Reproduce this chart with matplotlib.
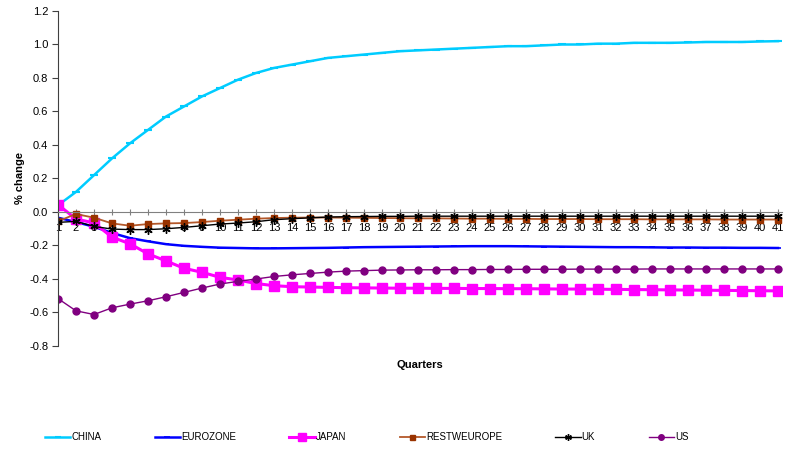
import matplotlib
matplotlib.use("Agg")
import matplotlib.pyplot as plt
import numpy as np

plt.rcParams['font.family'] = ['Liberation Sans', 'DejaVu Sans']

quarters = list(range(1, 42))

china = [0.04, 0.12, 0.22, 0.32, 0.41, 0.49, 0.57, 0.63, 0.69, 0.74,
         0.79, 0.83, 0.86, 0.88, 0.90, 0.92, 0.93, 0.94, 0.95, 0.96,
         0.965, 0.97, 0.975, 0.98, 0.985, 0.99, 0.99, 0.995, 1.0, 1.0,
         1.005, 1.005, 1.01, 1.01, 1.01, 1.012, 1.015, 1.015, 1.015, 1.018, 1.02]

eurozone = [-0.034, -0.06, -0.088, -0.125, -0.156, -0.175, -0.192, -0.202, -0.208, -0.213,
            -0.215, -0.217, -0.217, -0.216, -0.215, -0.214, -0.212, -0.21, -0.209, -0.208,
            -0.207, -0.206, -0.205, -0.204, -0.204, -0.204, -0.205, -0.206, -0.207, -0.208,
            -0.209, -0.21, -0.21, -0.211, -0.212, -0.212, -0.213, -0.213, -0.214, -0.214, -0.215]

japan = [0.044, -0.042, -0.065, -0.15, -0.19, -0.25, -0.292, -0.336, -0.36, -0.39,
         -0.406, -0.427, -0.44, -0.446, -0.448, -0.45, -0.452, -0.453, -0.454, -0.455,
         -0.455, -0.456, -0.456, -0.457, -0.457, -0.458, -0.458, -0.459, -0.46, -0.46,
         -0.461, -0.462, -0.463, -0.464, -0.465, -0.466, -0.467, -0.468, -0.469, -0.47, -0.471]

restweurope = [-0.055, -0.012, -0.034, -0.068, -0.082, -0.072, -0.068, -0.066, -0.06, -0.052,
               -0.046, -0.04, -0.036, -0.034, -0.033, -0.033, -0.034, -0.035, -0.036, -0.037,
               -0.038, -0.038, -0.039, -0.04, -0.04, -0.041, -0.041, -0.042, -0.042, -0.042,
               -0.043, -0.043, -0.043, -0.044, -0.044, -0.044, -0.044, -0.045, -0.045, -0.045, -0.045]

uk = [-0.062, -0.056, -0.086, -0.102, -0.105, -0.105, -0.1, -0.092, -0.082, -0.072,
      -0.066, -0.058, -0.046, -0.04, -0.035, -0.03, -0.028, -0.027, -0.026, -0.026,
      -0.025, -0.025, -0.025, -0.025, -0.025, -0.025, -0.025, -0.025, -0.025, -0.025,
      -0.025, -0.025, -0.025, -0.025, -0.025, -0.025, -0.025, -0.025, -0.025, -0.025, -0.025]

us = [-0.517, -0.59, -0.612, -0.572, -0.55, -0.53, -0.506, -0.48, -0.454, -0.43,
      -0.414, -0.40, -0.385, -0.375, -0.367, -0.359, -0.353, -0.35, -0.347, -0.346,
      -0.345, -0.345, -0.344, -0.344, -0.343, -0.343, -0.342, -0.342, -0.342, -0.341,
      -0.341, -0.341, -0.341, -0.340, -0.340, -0.340, -0.340, -0.340, -0.340, -0.340, -0.340]

yticks = [-0.8, -0.6, -0.4, -0.2, 0.0, 0.2, 0.4, 0.6, 0.8, 1.0, 1.2]
ytick_labels = ['-0.8', '-0.6', '-0.4', '-0.2', '0.0', '0.2', '0.4', '0.6', '0.8', '1.0', '1.2']

fig = plt.figure(figsize=(7.85, 4.5), dpi=100)
ax = fig.add_axes([58 / 785, 1 - 346 / 450, 724 / 785, 335 / 450])

ax.plot(quarters, china, color='#00CCFF', lw=1.8, marker='_', ms=6, mew=1.5, label='CHINA')
ax.plot(quarters, eurozone, color='#0000FF', lw=1.8, marker='_', ms=5, mew=1.2, label='EUROZONE')
ax.plot(quarters, japan, color='#FF00FF', lw=2.2, marker='s', ms=6.5, label='JAPAN')
ax.plot(quarters, restweurope, color='#B4582A', lw=1.3, marker='s', ms=4.5,
        mfc='#993300', mec='#993300', label='RESTWEUROPE')
ax.plot(quarters, uk, color='#000000', lw=1.0, marker=(6, 2, 0), ms=6, mew=1.0, label='UK')
ax.plot(quarters, us, color='#800080', lw=1.0, marker='o', ms=5, label='US')

ax.set_xlim(1, 41.22)
ax.set_ylim(-0.8, 1.2)
ax.set_yticks(yticks)
ax.set_yticklabels(ytick_labels)
ax.set_xticks(quarters)
ax.set_xticklabels([str(q) for q in quarters])

ax.spines['top'].set_visible(False)
ax.spines['right'].set_visible(False)
ax.spines['bottom'].set_position(('data', 0))
ax.spines['bottom'].set_color('#808080')
ax.spines['left'].set_color('#404040')
ax.tick_params(axis='y', labelsize=8, length=4, color='#404040', pad=3)
ax.tick_params(axis='x', labelsize=8, length=4, direction='inout', color='#808080', pad=6)

ax.set_ylabel('% change', fontsize=8, fontweight='bold', labelpad=3)
fig.text(420 / 785, 1 - 365 / 450, 'Quarters', fontsize=8, fontweight='bold',
         ha='center', va='center')

fig.legend(loc='center left', bbox_to_anchor=(45 / 785, 1 - 437 / 450), ncol=6, frameon=False,
           fontsize=7, handlelength=2.6, handletextpad=0.1, columnspacing=5.5,
           borderpad=0, borderaxespad=0, markerscale=0.8)

fig.savefig('out.png', dpi=100)
